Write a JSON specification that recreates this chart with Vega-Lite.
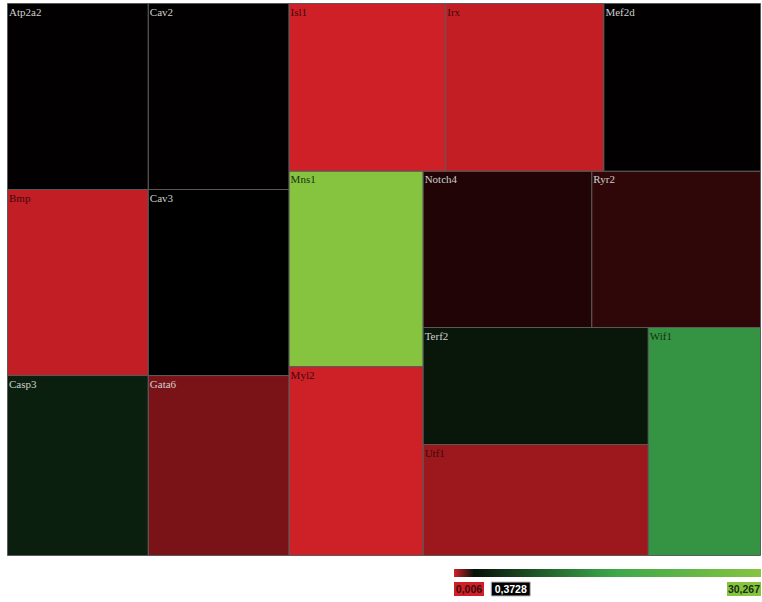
{
  "$schema": "https://vega.github.io/schema/vega-lite/v6.json",
  "width": 762,
  "height": 602,
  "autosize": "none",
  "padding": 0,
  "background": "#ffffff",
  "config": {"view": {"stroke": null}},
  "datasets": {
    "cells": [
      {"gene": "Atp2a2", "value": 0.37, "x0": 0, "x1": 0.187, "y0": 0, "y1": 0.337},
      {"gene": "Bmp", "value": 0.029, "x0": 0, "x1": 0.187, "y0": 0.337, "y1": 0.674},
      {"gene": "Casp3", "value": 3.2, "x0": 0, "x1": 0.187, "y0": 0.674, "y1": 1},
      {"gene": "Cav2", "value": 0.37, "x0": 0.187, "x1": 0.374, "y0": 0, "y1": 0.337},
      {"gene": "Cav3", "value": 0.372, "x0": 0.187, "x1": 0.374, "y0": 0.337, "y1": 0.674},
      {"gene": "Gata6", "value": 0.157, "x0": 0.187, "x1": 0.374, "y0": 0.674, "y1": 1},
      {"gene": "Isl1", "value": 0.006, "x0": 0.374, "x1": 0.582, "y0": 0, "y1": 0.304},
      {"gene": "Irx", "value": 0.026, "x0": 0.582, "x1": 0.792, "y0": 0, "y1": 0.304},
      {"gene": "Mef2d", "value": 0.37, "x0": 0.792, "x1": 1, "y0": 0, "y1": 0.304},
      {"gene": "Mns1", "value": 30.267, "x0": 0.374, "x1": 0.552, "y0": 0.304, "y1": 0.658},
      {"gene": "Myl2", "value": 0.008, "x0": 0.374, "x1": 0.552, "y0": 0.658, "y1": 1},
      {"gene": "Notch4", "value": 0.314, "x0": 0.552, "x1": 0.776, "y0": 0.304, "y1": 0.587},
      {"gene": "Ryr2", "value": 0.288, "x0": 0.776, "x1": 1, "y0": 0.304, "y1": 0.587},
      {"gene": "Terf2", "value": 2.45, "x0": 0.552, "x1": 0.851, "y0": 0.587, "y1": 0.799},
      {"gene": "Utf1", "value": 0.096, "x0": 0.552, "x1": 0.851, "y0": 0.799, "y1": 1},
      {"gene": "Wif1", "value": 13.7, "x0": 0.851, "x1": 1, "y0": 0.587, "y1": 1}
    ],
    "legend": [
      {"label": "0,006", "v": 0.006},
      {"label": "0,3728", "v": 0.3728},
      {"label": "30,267", "v": 30.267}
    ]
  },
  "resolve": {"scale": {"x": "independent", "y": "independent"}},
  "layer": [
    {
      "data": {"name": "cells"},
      "encoding": {
        "x": {"field": "x0", "type": "quantitative", "axis": null, "scale": {"domain": [0, 1], "range": [7.5, 760.5], "nice": false, "zero": false}},
        "y": {"field": "y0", "type": "quantitative", "axis": null, "scale": {"domain": [0, 1], "range": [3.5, 555.5], "nice": false, "zero": false}}
      },
      "layer": [
        {
          "mark": {"type": "rect", "stroke": "#5a5a5a", "strokeWidth": 1},
          "encoding": {
            "x2": {"field": "x1"},
            "y2": {"field": "y1"},
            "color": {
              "field": "value",
              "type": "quantitative",
              "scale": {"type": "linear", "domain": [0.006, 0.3728, 15.32, 30.267], "range": ["#cf2027", "#000000", "#3aa64b", "#86c440"], "interpolate": "rgb"},
              "legend": {
                "orient": "none",
                "legendX": 454,
                "legendY": 569,
                "direction": "horizontal",
                "gradientLength": 307,
                "gradientThickness": 8,
                "gradientStrokeWidth": 0,
                "labelExpr": "''",
                "labelFontSize": 1,
                "title": null,
                "padding": 0,
                "offset": 0
              }
            }
          }
        },
        {
          "mark": {"type": "text", "align": "left", "baseline": "top", "dx": 1.5, "dy": 3, "font": "Liberation Serif", "fontSize": 11},
          "encoding": {
            "text": {"field": "gene"},
            "color": {
              "condition": [
                {"test": "datum.value < 0.12", "value": "#3b0a0c"},
                {"test": "datum.value > 10", "value": "#163010"}
              ],
              "value": "#cfcfcf"
            }
          }
        }
      ]
    },
    {
      "data": {"name": "legend"},
      "encoding": {
        "x": {"field": "v", "type": "quantitative", "axis": null, "scale": {"domain": [0.006, 30.267], "range": [454, 761], "nice": false, "zero": false, "padding": 0}}
      },
      "layer": [
        {
          "transform": [{"filter": "datum.label === '0,006'"}],
          "layer": [
            {
              "mark": {"type": "bar", "orient": "vertical", "width": 30, "xOffset": 15},
              "encoding": {
                "y": {"datum": 0, "type": "quantitative", "axis": null, "scale": {"domain": [0, 1], "range": [582, 596], "nice": false, "zero": false}},
                "y2": {"datum": 1},
                "color": {"field": "v", "type": "quantitative"}
              }
            },
            {
              "mark": {"type": "text", "align": "center", "baseline": "middle", "xOffset": 15, "font": "Liberation Sans", "fontSize": 10.5, "fontWeight": "bold", "color": "#3b0a0c"},
              "encoding": {
                "y": {"datum": 0.55, "type": "quantitative", "axis": null, "scale": {"domain": [0, 1], "range": [582, 596], "nice": false, "zero": false}},
                "text": {"field": "label"}
              }
            }
          ]
        },
        {
          "transform": [{"filter": "datum.label === '0,3728'"}],
          "layer": [
            {
              "mark": {"type": "bar", "orient": "vertical", "width": 39, "xOffset": 53, "stroke": "#bbbbbb", "strokeWidth": 1},
              "encoding": {
                "y": {"datum": 0, "type": "quantitative", "axis": null, "scale": {"domain": [0, 1], "range": [582, 596], "nice": false, "zero": false}},
                "y2": {"datum": 1},
                "color": {"field": "v", "type": "quantitative"}
              }
            },
            {
              "mark": {"type": "text", "align": "center", "baseline": "middle", "xOffset": 53, "font": "Liberation Sans", "fontSize": 10.5, "fontWeight": "bold", "color": "#ffffff"},
              "encoding": {
                "y": {"datum": 0.55, "type": "quantitative", "axis": null, "scale": {"domain": [0, 1], "range": [582, 596], "nice": false, "zero": false}},
                "text": {"field": "label"}
              }
            }
          ]
        },
        {
          "transform": [{"filter": "datum.label === '30,267'"}],
          "layer": [
            {
              "mark": {"type": "bar", "orient": "vertical", "width": 34, "xOffset": -17},
              "encoding": {
                "y": {"datum": 0, "type": "quantitative", "axis": null, "scale": {"domain": [0, 1], "range": [582, 596], "nice": false, "zero": false}},
                "y2": {"datum": 1},
                "color": {"field": "v", "type": "quantitative"}
              }
            },
            {
              "mark": {"type": "text", "align": "center", "baseline": "middle", "xOffset": -17, "font": "Liberation Sans", "fontSize": 10.5, "fontWeight": "bold", "color": "#163010"},
              "encoding": {
                "y": {"datum": 0.55, "type": "quantitative", "axis": null, "scale": {"domain": [0, 1], "range": [582, 596], "nice": false, "zero": false}},
                "text": {"field": "label"}
              }
            }
          ]
        }
      ]
    }
  ]
}
